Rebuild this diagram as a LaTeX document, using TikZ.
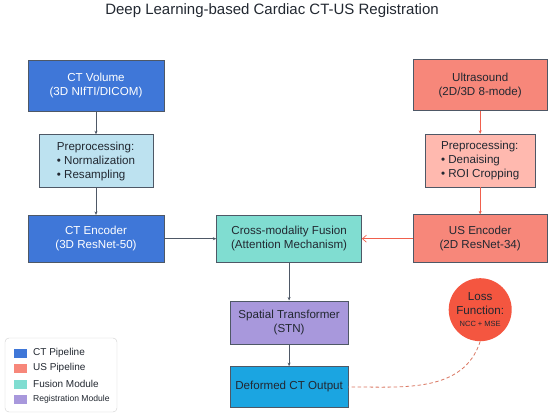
\documentclass[tikz,border=0pt]{standalone}
\usepackage{fontspec}
\setmainfont{Liberation Sans}
\usetikzlibrary{arrows.meta,positioning}
\definecolor{Ink}{HTML}{222831}
\definecolor{Edge}{HTML}{4E5866}
\definecolor{CTBlue}{HTML}{3F77D8}
\definecolor{CTLight}{HTML}{BDE2F0}
\definecolor{Fusion}{HTML}{80DDD1}
\definecolor{USSalmon}{HTML}{F7877A}
\definecolor{USLight}{HTML}{FFB9AF}
\definecolor{RegPurple}{HTML}{A898DC}
\definecolor{OutBlue}{HTML}{1BA5E1}
\definecolor{LossRed}{HTML}{F45640}
\definecolor{Coral}{HTML}{F0604D}
\definecolor{DashRed}{HTML}{D97560}
\definecolor{LegRule}{HTML}{CFCFCF}

\begin{document}
\begin{tikzpicture}[x=1pt,y=-1pt,
  every node/.style={font=\fontsize{11.6}{14}\selectfont,text=Ink},
  box/.style={draw=Edge,line width=0.6pt,inner sep=2pt,align=center},
  prebox/.style={box,align=left},
  grayarr/.style={draw=Edge,line width=0.6pt,-{Stealth[length=3.5pt,width=3pt]}},
  coralarr/.style={draw=Coral,line width=0.6pt,-{Stealth[length=3.5pt,width=3pt]}},
  swatch/.style={minimum width=13pt,minimum height=9pt,inner sep=0pt}]
  \useasboundingbox (0,0) rectangle (550,416);
  \node[font=\fontsize{15}{17}\selectfont] (title) at (272,11) {Deep Learning-based Cardiac CT-US Registration};

  % CT side
  \node[box,fill=CTBlue,text=white,minimum width=136pt,minimum height=51pt] (ctvol) at (96,85.5) {CT Volume\\(3D NIfTI/DICOM)};
  \node[prebox,fill=CTLight,minimum width=114pt,minimum height=53pt,below=23pt of ctvol] (ctpre) {Preprocessing:\\• Normalization\\• Resampling};
  \node[box,fill=CTBlue,text=white,minimum width=136pt,minimum height=47pt,below=27pt of ctpre] (ctenc) {CT Encoder\\(3D ResNet-50)};

  % fusion and registration
  \node[box,fill=Fusion,minimum width=145pt,minimum height=47pt,right=52pt of ctenc] (fusion) {Cross-modality Fusion\\(Attention Mechanism)};
  \node[box,fill=RegPurple,minimum width=118pt,minimum height=43pt,below=38pt of fusion] (stn) {Spatial Transformer\\(STN)};
  \node[box,fill=OutBlue,minimum width=118pt,minimum height=41pt,below=22pt of stn] (out) {Deformed CT Output};

  % US side
  \node[box,fill=USSalmon,minimum width=134pt,minimum height=48pt,right=51pt of fusion] (usenc) {US Encoder\\(2D ResNet-34)};
  \node[prebox,fill=USLight,minimum width=110pt,minimum height=53pt,above=27pt of usenc] (uspre) {Preprocessing:\\• Denaising\\• ROI Cropping};
  \node[box,fill=USSalmon,minimum width=134pt,minimum height=51pt,above=23pt of uspre] (usvol) {Ultrasound\\(2D/3D 8-mode)};

  \node[circle,fill=LossRed,minimum size=63pt,inner sep=0pt,align=center,below=15pt of usenc] (loss) {Loss\\Function:\\[-2pt]{\fontsize{7.5}{9}\selectfont NCC + MSE}};

  \draw[grayarr] (ctvol) -- (ctpre);
  \draw[grayarr] (ctpre) -- (ctenc);
  \draw[grayarr] (ctenc) -- (fusion);
  \draw[coralarr] (usvol) -- (uspre);
  \draw[coralarr] (uspre) -- (usenc);
  \draw[draw=Coral,line width=0.7pt,-{Straight Barb[length=4pt,width=7pt]}] (usenc) -- (fusion);
  \draw[grayarr] (fusion) -- (stn);
  \draw[grayarr] (stn) -- (out);
  \draw[DashRed,line width=0.8pt,dash pattern=on 3.5pt off 2.5pt] (loss.south) to[out=252,in=0] (out.east);

  % legend
  \draw[LegRule,fill=white,rounded corners=4pt] (5,338) rectangle (117,412);
  \foreach \y/\col/\txt/\fs in {353/CTBlue/CT Pipeline/10, 368/USSalmon/US Pipeline/10, 384/Fusion/Fusion Module/10, 399/RegPurple/Registration Module/8.6} {
    \node[swatch,fill=\col] (sw\y) at (20.5,\y) {};
    \node[anchor=west,inner sep=0pt,font=\fontsize{\fs}{10}\selectfont] (lab\y) at (33,\y) {\txt};
  }
\end{tikzpicture}
\end{document}
